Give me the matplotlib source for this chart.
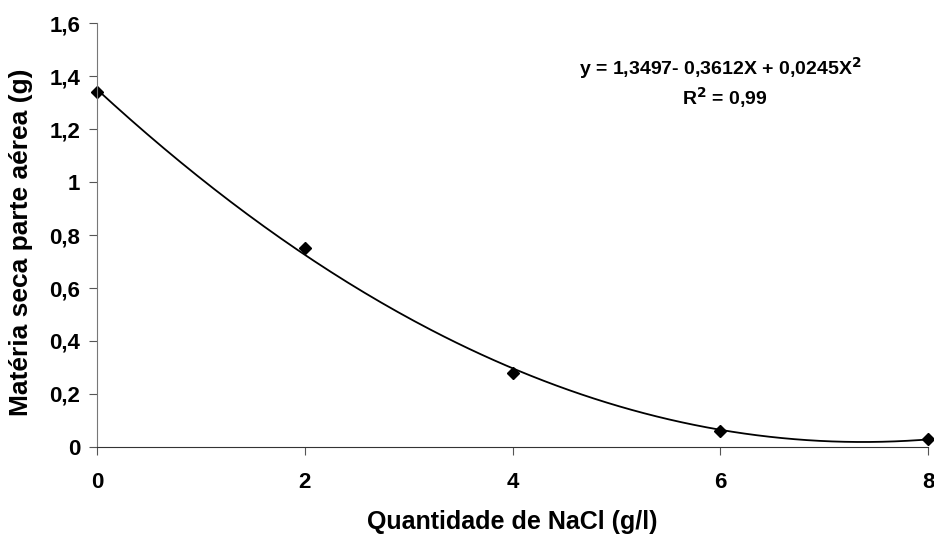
import numpy as np
import matplotlib.pyplot as plt

plt.rcParams['font.family'] = ['Liberation Sans', 'DejaVu Sans']
plt.rcParams['font.weight'] = 'bold'

# data
nacl = [0, 2, 4, 6, 8]
materia_seca = [1.34, 0.75, 0.28, 0.06, 0.03]
# trendline coefficients printed on the chart (c0, c1, c2)
coef = [1.3497, -0.3612, 0.0245]
xticks = [0, 2, 4, 6, 8]
yticks = [0, 0.2, 0.4, 0.6, 0.8, 1.0, 1.2, 1.4, 1.6]
ylabels = ['0', '0,2', '0,4', '0,6', '0,8', '1', '1,2', '1,4', '1,6']

fig = plt.figure(figsize=(9.34, 5.41), dpi=100)
ax = fig.add_axes([0.104, 0.174, 0.8896, 0.783])

xs = np.linspace(0, 8, 200)
ys = coef[0] + coef[1]*xs + coef[2]*xs**2
ax.plot(xs, ys, color='black', lw=1.3, clip_on=False)
ax.plot(nacl, materia_seca, 'D', color='black', ms=6, clip_on=False)

ax.set_xlim(0, 8)
ax.set_ylim(0, 1.6)
ax.set_xticks(xticks)
ax.set_xticklabels([str(v) for v in xticks])
ax.set_yticks(yticks)
ax.set_yticklabels(ylabels)
ax.tick_params(axis='both', labelsize=16, length=6, color='#555555')
ax.tick_params(axis='x', pad=12)
ax.tick_params(axis='y', pad=6)

for s in ['top', 'right']:
    ax.spines[s].set_visible(False)
ax.spines['left'].set_color('#777777')
ax.spines['bottom'].set_color('#333333')

ax.set_xlabel('Quantidade de NaCl (g/l)', fontsize=18, fontweight='bold', labelpad=12)
ax.set_ylabel('Matéria seca parte aérea (g)', fontsize=19, fontweight='bold')
ax.yaxis.set_label_coords(-0.077, 0.483)

ax.text(0.75, 0.894, 'y = 1,3497- 0,3612X + 0,0245X$^\\mathbf{2}$', transform=ax.transAxes,
        ha='center', va='center', fontsize=14, fontweight='bold')
ax.text(0.755, 0.825, 'R$^\\mathbf{2}$ = 0,99', transform=ax.transAxes,
        ha='center', va='center', fontsize=14, fontweight='bold')

fig.savefig('out.png', dpi=100)
